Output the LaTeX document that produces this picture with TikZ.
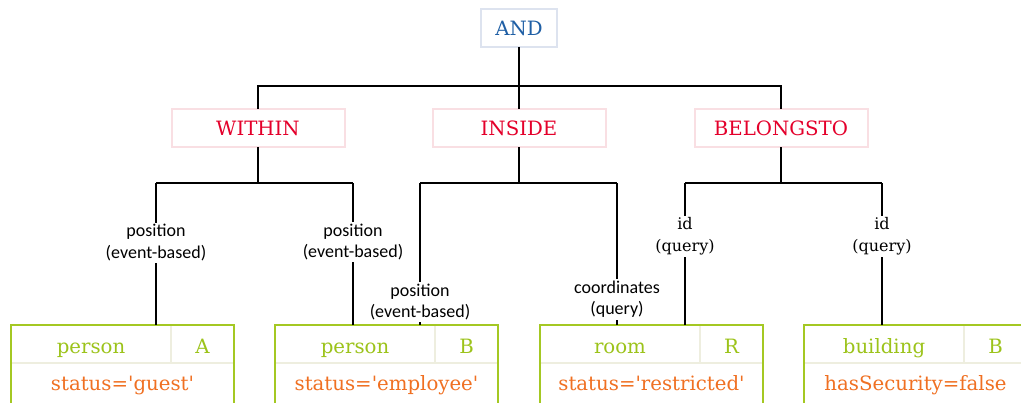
\documentclass[tikz,border=0pt]{standalone}
\usepackage{fontspec}
\usetikzlibrary{calc}
\newfontfamily\lblsans{Carlito}
\newfontfamily\boxserif{DejaVu Serif}

\definecolor{andblue}{HTML}{1F5FA5}
\definecolor{andframe}{HTML}{DDE3EF}
\definecolor{oprred}{HTML}{E4002B}
\definecolor{oprframe}{HTML}{F9DFE3}
\definecolor{entgreen}{HTML}{9CC31A}
\definecolor{entframe}{HTML}{A4C823}
\definecolor{entline}{HTML}{EEEEDF}
\definecolor{condorange}{HTML}{F07022}

\tikzset{
  serifbig/.style={font=\boxserif\fontsize{14.8}{17}\selectfont},
  rootbox/.style={draw=andframe, line width=1.5pt, fill=white, text=andblue,
    serifbig, minimum width=57pt, minimum height=28.5pt, inner sep=0pt, outer sep=0pt},
  oprbox/.style={draw=oprframe, line width=1.5pt, fill=white, text=oprred,
    serifbig, minimum width=129.75pt, minimum height=28.5pt, inner sep=0pt, outer sep=0pt},
  entity/.style={draw=entframe, line width=1.5pt, fill=none,
    minimum width=167.25pt, minimum height=59.25pt, inner sep=0pt, outer sep=0pt},
  divider/.style={draw=entline, line width=1pt},
  typetext/.style={serifbig, text=entgreen, anchor=base, inner sep=0pt},
  condtext/.style={serifbig, text=condorange, anchor=base, inner sep=0pt},
  link/.style={draw=black, line width=1.1pt},
  lblsf/.style={fill=white, inner sep=1.5pt, align=center,
    font=\lblsans\fontsize{13.5}{16}\selectfont},
  lblrm/.style={fill=white, inner sep=1.5pt, align=center,
    font=\boxserif\fontsize{12}{16}\selectfont},
}

\newcommand{\qt}{\textquotesingle}

% entity box: name, left x, type, identifier, condition
\newcommand{\entitybox}[5]{%
  \node[entity, anchor=north west] (#1) at (#2,325) {};
  \draw[divider] ($(#1.north west)+(1,38)$) -- ($(#1.north east)+(-1,38)$);
  \draw[divider] ($(#1.north west)+(160,1)$) -- ($(#1.north west)+(160,38)$);
  \node[typetext] at ($(#1.north west)+(80,28)$) {#3};
  \node[typetext] at ($(#1.north west)+(191.5,28)$) {#4};
  \node[condtext] at ($(#1.north west)+(111.5,65)$) {#5};
  \draw[entframe, line width=1.5pt] (#1.north west) rectangle (#1.south east);
}

\begin{document}
\begin{tikzpicture}[x=0.75pt, y=-0.75pt]
  \fill[white] (0,0) rectangle (1021,403);
  \useasboundingbox (0,0) rectangle (1021,403);

  % operator nodes
  \node[rootbox] (and) at (519,28) {AND};
  \node[oprbox] (within) at (258,128) {WITHIN};
  \node[oprbox] (inside) at (519,128) {INSIDE};
  \node[oprbox] (belongs) at (781,128) {BELONGSTO};

  % entity boxes
  \entitybox{personA}{11}{person}{A}{status=\qt guest\qt}
  \entitybox{personB}{275}{person}{B}{status=\qt employee\qt}
  \entitybox{room}{540}{room}{R}{status=\qt restricted\qt}
  \entitybox{building}{804}{building}{B}{hasSecurity=false}

  % branching points
  \coordinate (andbar) at ($(and.south)+(0,39)$);
  \coordinate (w1) at (156,183);
  \coordinate (w2) at (353,183);
  \coordinate (i1) at (420,183);
  \coordinate (i2) at (617,183);
  \coordinate (b1) at (685,183);
  \coordinate (b2) at (882,183);

  % root to operators
  \draw[link] (and.south) -- (andbar);
  \draw[link] (andbar) -| (within.north);
  \draw[link] (andbar) -| (belongs.north);
  \draw[link] (andbar) -- (inside.north);

  % operators to their bars
  \draw[link] (within.south) -- (within.south |- w1);
  \draw[link] (w1) -- (w2);
  \draw[link] (inside.south) -- (inside.south |- i1);
  \draw[link] (i1) -- (i2);
  \draw[link] (belongs.south) -- (belongs.south |- b1);
  \draw[link] (b1) -- (b2);

  % labelled links to the entities
  \draw[link] (w1) -- node[lblsf, pos=0.42] {position\\(event-based)} (w1 |- personA.north);
  \draw[link] (w2) -- node[lblsf, pos=0.415] {position\\(event-based)} (w2 |- personB.north);
  \draw[link] (i1) -- node[lblsf, pos=0.84] {position\\(event-based)} (i1 |- personB.north);
  \draw[link] (i2) -- node[lblsf, pos=0.82] {coordinates\\(query)} (i2 |- room.north);
  \draw[link] (b1) -- node[lblrm, pos=0.375] {id\\(query)} (b1 |- room.north);
  \draw[link] (b2) -- node[lblrm, pos=0.375] {id\\(query)} (b2 |- building.north);
\end{tikzpicture}
\end{document}
